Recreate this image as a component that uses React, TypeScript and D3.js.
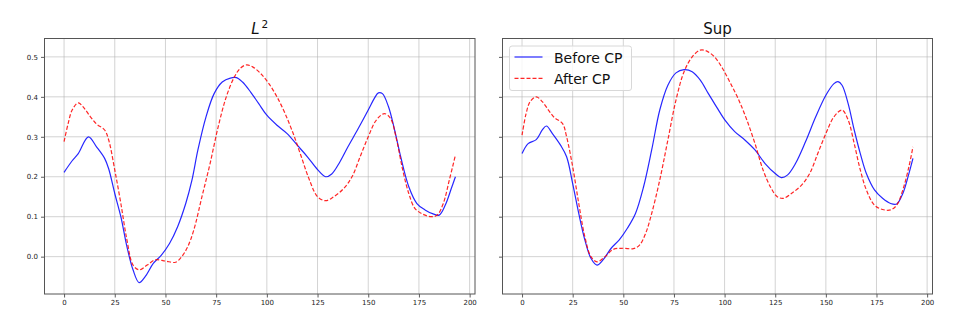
import React, { useEffect, useRef } from "react";
import * as d3 from "d3";

// sampled positions (frame index) and values for each panel
const l2X = [0, 4, 7, 12, 16, 20, 22, 25, 28, 31, 34, 37, 40, 44, 48, 52, 56, 60, 63, 66, 70, 74, 78, 82, 85, 88, 92, 96, 100, 105, 110, 115, 120, 125, 129, 132, 136, 140, 145, 150, 153, 155, 157, 160, 163, 166, 170, 174, 178, 182, 185, 188, 191, 193];
const l2Before = [0.211, 0.24, 0.258, 0.30, 0.275, 0.246, 0.22, 0.158, 0.10, 0.025, -0.033, -0.065, -0.05, -0.017, 0.004, 0.033, 0.075, 0.133, 0.19, 0.267, 0.35, 0.408, 0.437, 0.447, 0.448, 0.437, 0.412, 0.383, 0.354, 0.329, 0.308, 0.279, 0.25, 0.218, 0.20, 0.207, 0.237, 0.275, 0.32, 0.367, 0.396, 0.41, 0.408, 0.375, 0.317, 0.25, 0.175, 0.133, 0.117, 0.107, 0.104, 0.129, 0.171, 0.20];

const l2AfterX = [0, 2, 4, 7, 10, 13, 16, 20, 22, 25, 28, 31, 34, 37, 41, 45, 50, 55, 58, 61, 64, 68, 72, 76, 80, 84, 87, 90, 93, 97, 101, 105, 109, 113, 117, 121, 125, 129, 133, 138, 142, 146, 150, 154, 158, 161, 164, 167, 170, 173, 177, 181, 184, 187, 190, 193];
const l2After = [0.288, 0.333, 0.367, 0.385, 0.371, 0.35, 0.332, 0.317, 0.292, 0.217, 0.133, 0.042, -0.021, -0.033, -0.021, -0.008, -0.011, -0.014, 0.0, 0.025, 0.067, 0.15, 0.233, 0.325, 0.40, 0.45, 0.472, 0.48, 0.475, 0.458, 0.433, 0.40, 0.358, 0.308, 0.25, 0.192, 0.15, 0.14, 0.15, 0.171, 0.20, 0.25, 0.30, 0.342, 0.358, 0.346, 0.292, 0.217, 0.158, 0.121, 0.106, 0.10, 0.104, 0.133, 0.192, 0.254];

const supX = [0, 3, 7, 10, 12, 15, 19, 22, 25, 28, 31, 34, 37, 40, 44, 48, 52, 56, 60, 64, 68, 72, 76, 80, 84, 88, 92, 96, 100, 105, 110, 115, 120, 125, 128, 131, 135, 140, 145, 150, 154, 156, 158, 161, 164, 167, 170, 174, 178, 182, 185, 188, 191, 193];
const supBefore = [0.258, 0.283, 0.293, 0.317, 0.327, 0.308, 0.279, 0.25, 0.183, 0.108, 0.042, -0.004, -0.021, -0.008, 0.021, 0.042, 0.071, 0.108, 0.175, 0.267, 0.367, 0.429, 0.46, 0.468, 0.463, 0.442, 0.408, 0.375, 0.343, 0.313, 0.292, 0.267, 0.233, 0.208, 0.198, 0.204, 0.233, 0.288, 0.35, 0.404, 0.433, 0.438, 0.429, 0.383, 0.317, 0.258, 0.208, 0.167, 0.146, 0.133, 0.132, 0.158, 0.208, 0.246];

const supAfterX = [0, 2, 4, 7, 10, 13, 16, 20, 22, 25, 28, 31, 34, 37, 41, 45, 50, 55, 58, 61, 64, 68, 72, 76, 80, 84, 88, 91, 95, 99, 103, 107, 111, 115, 119, 123, 126, 129, 133, 138, 142, 146, 150, 154, 158, 161, 164, 167, 170, 174, 178, 182, 185, 188, 191, 193];
const supAfter = [0.304, 0.358, 0.388, 0.40, 0.388, 0.367, 0.348, 0.333, 0.30, 0.225, 0.133, 0.05, 0.0, -0.013, 0.0, 0.018, 0.021, 0.02, 0.029, 0.058, 0.108, 0.192, 0.292, 0.392, 0.463, 0.50, 0.517, 0.515, 0.50, 0.471, 0.433, 0.392, 0.342, 0.283, 0.217, 0.171, 0.15, 0.146, 0.158, 0.179, 0.208, 0.258, 0.308, 0.35, 0.367, 0.342, 0.283, 0.217, 0.167, 0.129, 0.118, 0.117, 0.129, 0.167, 0.225, 0.275];

const xTicks = [0, 25, 50, 75, 100, 125, 150, 175, 200];
const yTicks = [0.0, 0.1, 0.2, 0.3, 0.4, 0.5];
const seriesNames = ["Before CP", "After CP"];

const panels = [
  { title: "L2", left: 44.5, right: 475, before: [l2X, l2Before], after: [l2AfterX, l2After], yLabels: true, legend: false },
  { title: "Sup", left: 502.5, right: 932.5, before: [supX, supBefore], after: [supAfterX, supAfter], yLabels: false, legend: true },
];

const App = () => {
  const svgRef = useRef();

  useEffect(() => {
    const width = 955;
    const height = 326;
    const top = 38.5;
    const bottom = 294;

    const svg = d3.select(svgRef.current);
    svg.selectAll("*").remove();
    svg.attr("width", width).attr("height", height);

    svg.append("rect").attr("width", width).attr("height", height).attr("fill", "white");

    const yScale = d3.scaleLinear().domain([-0.0935, 0.546]).range([bottom, top]);

    panels.forEach((p, i) => {
      const xScale = d3.scaleLinear().domain([-9.65, 202.65]).range([p.left, p.right]);
      const g = svg.append("g");

      // grid
      g.selectAll(".vgrid")
        .data(xTicks)
        .enter()
        .append("line")
        .attr("x1", d => xScale(d))
        .attr("x2", d => xScale(d))
        .attr("y1", top)
        .attr("y2", bottom)
        .attr("stroke", "#b0b0b0")
        .attr("stroke-opacity", 0.7)
        .attr("stroke-width", 0.8);

      g.selectAll(".hgrid")
        .data(yTicks)
        .enter()
        .append("line")
        .attr("x1", p.left)
        .attr("x2", p.right)
        .attr("y1", d => yScale(d))
        .attr("y2", d => yScale(d))
        .attr("stroke", "#b0b0b0")
        .attr("stroke-opacity", 0.7)
        .attr("stroke-width", 0.8);

      // x axis
      const xAxis = g.append("g")
        .attr("transform", `translate(0,${bottom})`)
        .call(d3.axisBottom(xScale).tickValues(xTicks).tickSize(3.5).tickPadding(3).tickFormat(d3.format("d")));
      xAxis.select(".domain").remove();

      // y axis
      const yAxis = g.append("g")
        .attr("transform", `translate(${p.left},0)`)
        .call(d3.axisLeft(yScale).tickValues(yTicks).tickSize(3.5).tickPadding(3)
          .tickFormat(p.yLabels ? d3.format(".1f") : () => ""));
      yAxis.select(".domain").remove();

      [xAxis, yAxis].forEach(a => {
        a.selectAll("text")
          .style("font-family", "DejaVu Sans")
          .style("font-size", "7px")
          .attr("fill", "#222");
        a.selectAll("line").attr("stroke", "#333").attr("stroke-width", 0.8);
      });

      const line = d3.line()
        .x(d => xScale(d[0]))
        .y(d => yScale(d[1]))
        .curve(d3.curveCatmullRom.alpha(0.5));

      const before = p.before[0].map((x, k) => [x, p.before[1][k]]);
      const after = p.after[0].map((x, k) => [x, p.after[1][k]]);

      g.append("path")
        .attr("d", line(before))
        .attr("fill", "none")
        .attr("stroke", "#0000ff")
        .attr("stroke-opacity", 0.85)
        .attr("stroke-width", 1.2);

      g.append("path")
        .attr("d", line(after))
        .attr("fill", "none")
        .attr("stroke", "#ff0000")
        .attr("stroke-opacity", 0.85)
        .attr("stroke-width", 1.2)
        .attr("stroke-dasharray", "4,2");

      // frame
      g.append("rect")
        .attr("x", p.left)
        .attr("y", top)
        .attr("width", p.right - p.left)
        .attr("height", bottom - top)
        .attr("fill", "none")
        .attr("stroke", "#555")
        .attr("stroke-width", 1);

      // title
      const cx = (p.left + p.right) / 2;
      if (i === 0) {
        const t = g.append("text")
          .attr("x", cx)
          .attr("y", 34)
          .attr("text-anchor", "middle")
          .style("font-family", "DejaVu Sans")
          .style("font-size", "15px")
          .attr("fill", "#111");
        t.append("tspan").style("font-style", "italic").text("L");
        t.append("tspan").attr("dy", -6).attr("dx", 2).style("font-size", "10.5px").text("2");
      } else {
        g.append("text")
          .attr("x", cx)
          .attr("y", 34)
          .attr("text-anchor", "middle")
          .style("font-family", "DejaVu Sans")
          .style("font-size", "15px")
          .attr("fill", "#111")
          .text(p.title);
      }

      if (p.legend) {
        const lg = g.append("g").attr("transform", `translate(${p.left + 7},${top + 7.5})`);
        lg.append("rect")
          .attr("width", 122)
          .attr("height", 44.5)
          .attr("rx", 2.5)
          .attr("fill", "white")
          .attr("fill-opacity", 0.8)
          .attr("stroke", "#d8d8d8")
          .attr("stroke-width", 1);
        seriesNames.forEach((name, k) => {
          const y = 11 + k * 21.3;
          lg.append("line")
            .attr("x1", 5)
            .attr("x2", 33)
            .attr("y1", y)
            .attr("y2", y)
            .attr("stroke", k === 0 ? "#0000ff" : "#ff0000")
            .attr("stroke-opacity", 0.85)
            .attr("stroke-width", 1.2)
            .attr("stroke-dasharray", k === 0 ? null : "4,2");
          lg.append("text")
            .attr("x", 44.5)
            .attr("y", y + 5.5)
            .style("font-family", "DejaVu Sans")
            .style("font-size", "14px")
            .attr("fill", "#111")
            .text(name);
        });
      }
    });
  }, []);

  return (
    <div style={{ position: "absolute", left: 0, top: 0 }}>
      <svg ref={svgRef} style={{ display: "block" }}></svg>
    </div>
  );
};

export default App;
